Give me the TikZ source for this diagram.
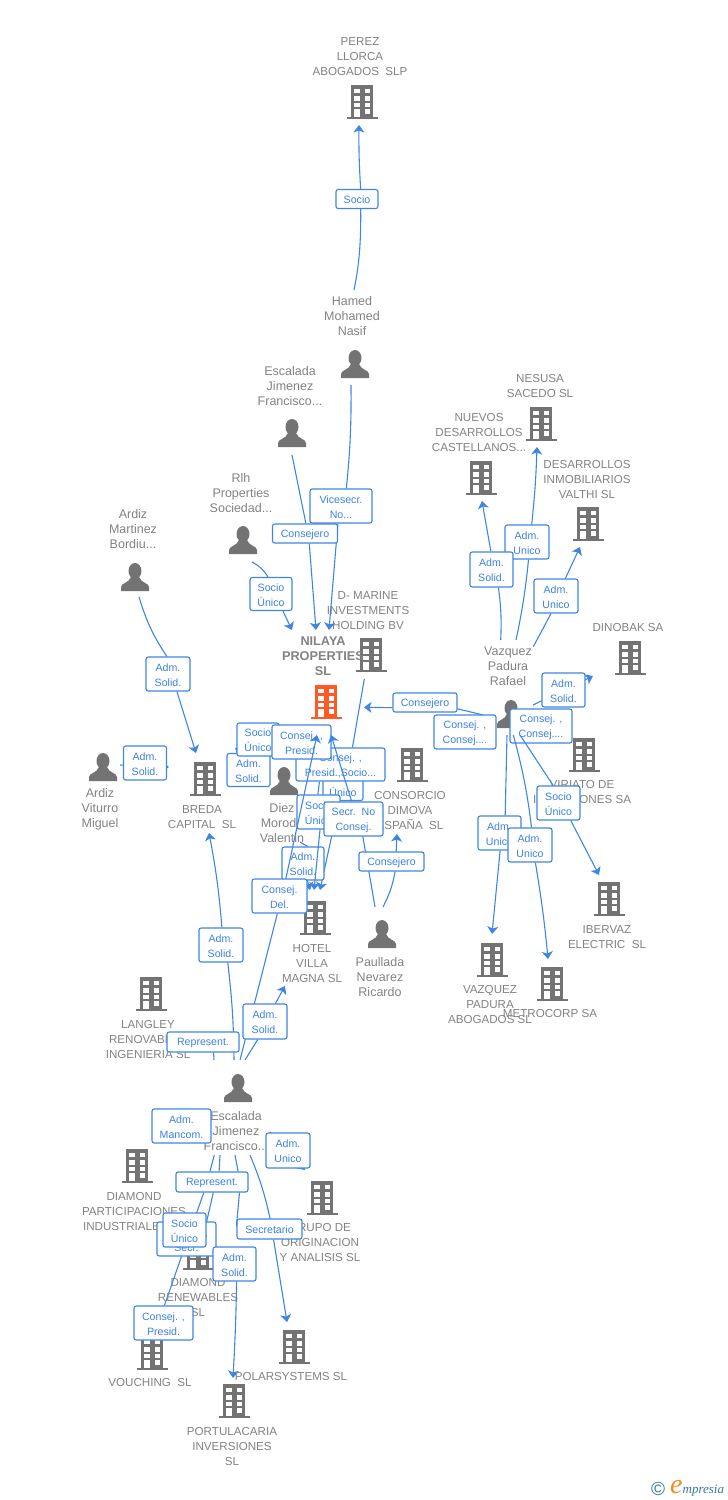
\documentclass[tikz,border=0pt]{standalone}
\usepackage{fontspec}
\setmainfont{Liberation Sans}
\newfontfamily\wmfont{Liberation Serif}
\usetikzlibrary{arrows.meta}
\definecolor{linkblue}{HTML}{3F86E4}
\definecolor{labtext}{HTML}{3C82E0}
\definecolor{grayt}{HTML}{828282}
\definecolor{icong}{HTML}{737373}
\definecolor{hot}{HTML}{FF5A26}
\definecolor{wmteal}{HTML}{2F7C9C}
\definecolor{wmor}{HTML}{F58A1F}
\tikzset{
  bldg/.pic={
    \fill[pic actions] (-11,-17) rectangle (11,15);
    \fill[pic actions] (-15.5,14.5) rectangle (15.5,17);
    \fill[white] (-8,-13.5) rectangle (-2.5,-9);
    \fill[white] (2.5,-13.5) rectangle (8,-9);
    \fill[white] (-8,-5.8) rectangle (-2.5,-1.3);
    \fill[white] (2.5,-5.8) rectangle (8,-1.3);
    \fill[white] (-8,0.9) rectangle (-2.5,5.4);
    \fill[white] (2.5,0.9) rectangle (8,5.4);
    \fill[white] (-8,7.3) rectangle (-2.5,14.5);
    \fill[white] (2.5,7.3) rectangle (8,11.6);
  },
  person/.pic={
    \fill[pic actions] (0,-6) ellipse [x radius=6.5,y radius=8];
    \fill[pic actions] (-14,14) -- (-14,10) .. controls (-14,6) and (-6,6) .. (-4,0) -- (4,0) .. controls (6,6) and (14,6) .. (14,10) -- (14,14) -- cycle;
  },
  iconbox/.style={inner sep=0pt,minimum width=30pt,minimum height=34pt},
  ntext/.style={text=grayt,align=center,inner sep=0pt,font=\fontsize{11.6}{15}\selectfont},
  ptext/.style={text=grayt,align=center,inner sep=0pt,font=\fontsize{12.5}{15}\selectfont},
  btext/.style={text=grayt,align=center,inner sep=0pt,font=\fontsize{12.7}{15}\selectfont\bfseries},
  lab/.style={draw=linkblue,fill=white,text=labtext,rounded corners=2.2pt,line width=1.1pt,inner sep=0pt,align=center,font=\fontsize{10.6}{15}\selectfont},
  link/.style={draw=linkblue,line width=1.1pt},
  arr/.style={link,-{Stealth[length=7.5pt,width=11pt,inset=2pt]}},
}
\newcommand\Bld[4][icong]{\node[iconbox] (#2) at (#3,#4) {}; \pic[fill=#1] at (#2) {bldg};}
\newcommand\Per[3]{\node[iconbox] (#1) at (#2,#3) {}; \pic[fill=icong] at (#1) {person};}
\newcommand\Txt[4]{\node[ntext] (#1) at (#2,#3) {\rule{0pt}{10pt}#4};}
\newcommand\PTxt[4]{\node[ptext] (#1) at (#2,#3) {\rule{0pt}{9.5pt}#4};}
\newcommand\Lbl[6]{\node[lab,minimum width=#4pt,minimum height=#5pt] (#1) at (#2,#3) {\rule{0pt}{9.5pt}#6};}
\begin{document}
\begin{tikzpicture}[x=1pt,y=-1pt]
\useasboundingbox (0,0) rectangle (728,1500);
% icons
\Bld{perez}{362}{102}
\Bld{nesusa}{541}{424}
\Bld{nuevos}{481}{478}
\Bld{valthi}{588}{524}
\Bld{dinobak}{630}{658}
\Bld{viriato}{584}{755}
\Bld{ibervaz}{609}{899}
\Bld{metro}{552}{984}
\Bld{vazab}{492}{960}
\Bld{dimova}{412}{765}
\Bld{dmarine}{371}{655}
\Bld[hot]{nilaya}{326}{702}
\Bld{breda}{205}{779}
\Bld{hotel}{315}{918}
\Bld{langley}{151}{994}
\Bld{diampart}{137}{1166}
\Bld{grupo}{322}{1198}
\Bld{diamren}{198}{1253}
\Bld{polar}{294}{1347}
\Bld{vouching}{152}{1353}
\Bld{portu}{234}{1401}
\Per{hamed}{355}{364}
\Per{escal}{292}{433}
\Per{rlh}{243}{540}
\Per{ardizm}{135}{577}
\Per{ardizv}{103}{767}
\Per{diez}{284}{781}
\Per{paull}{382}{934}
\Per{rafael}{511}{714}
\Per{escalb}{238}{1088}
% names
\Txt{tperez}{360}{56}{PEREZ\\LLORCA\\ABOGADOS\ \ SLP}
\Txt{tnesusa}{540}{385.5}{NESUSA\\SACEDO SL}
\Txt{tnuevos}{479}{432}{NUEVOS\\DESARROLLOS\\CASTELLANOS...}
\Txt{tvalthi}{587}{479}{DESARROLLOS\\INMOBILIARIOS\\VALTHI SL}
\Txt{tdino}{628}{627}{DINOBAK SA}
\Txt{tviri}{582}{791.5}{VIRIATO DE\\INVERSIONES SA}
\Txt{tiber}{607}{936.5}{IBERVAZ\\ELECTRIC\ \ SL}
\Txt{tmetro}{550}{1013}{METROCORP SA}
\Txt{tvazab}{490}{1004}{VAZQUEZ\\PADURA\\ABOGADOS SL}
\Txt{tdimova}{410}{810}{CONSORCIO\\DIMOVA\\ESPAÑA\ \ SL}
\Txt{tdmar}{368}{610}{D- MARINE\\INVESTMENTS\\HOLDING BV}
\node[btext] (tnil) at (323,656) {\rule{0pt}{10pt}NILAYA\\PROPERTIES\\SL};
\Txt{tbreda}{202}{816.5}{BREDA\\CAPITAL\ \ SL}
\Txt{thotel}{312}{963}{HOTEL\\VILLA\\MAGNA SL}
\Txt{tlang}{148}{1039}{LANGLEY\\RENOVABLES\\INGENIERIA SL}
\Txt{tdpart}{134}{1211}{DIAMOND\\PARTICIPACIONES\\INDUSTRIALES SL}
\Txt{tgrupo}{320}{1242}{GRUPO DE\\ORIGINACION\\Y ANALISIS SL}
\Txt{tdren}{198}{1297}{DIAMOND\\RENEWABLES\\SL}
\Txt{tpolar}{291}{1376}{POLARSYSTEMS SL}
\Txt{tvouch}{150}{1382}{VOUCHING\ \ SL}
\Txt{tportu}{232}{1446}{PORTULACARIA\\INVERSIONES\\SL}
\PTxt{thamed}{352}{316}{Hamed\\Mohamed\\Nasif}
\PTxt{tescal}{290}{386}{Escalada\\Jimenez\\Francisco...}
\PTxt{trlh}{241}{493}{Rlh\\Properties\\Sociedad...}
\PTxt{tardm}{133}{529}{Ardiz\\Martinez\\Bordiu...}
\PTxt{tardv}{100}{809}{Ardiz\\Viturro\\Miguel}
\PTxt{tdiez}{282}{823}{Diez\\Morodo\\Valentin}
\PTxt{tpaull}{380}{977}{Paullada\\Nevarez\\Ricardo}
\PTxt{traf}{508}{666}{Vazquez\\Padura\\Rafael}
\PTxt{tescb}{236}{1131}{Escalada\\Jimenez\\Francisco...}
% free connector ends
\coordinate (s1) at (354,290); \coordinate (e1) at (359,125);
\coordinate (s2) at (351,385); \coordinate (e2) at (329,630);
\coordinate (s3) at (292,455); \coordinate (e3) at (316,630);
\coordinate (s4) at (252,562); \coordinate (e4) at (292,630);
\coordinate (s5) at (139,597); \coordinate (e5) at (196,753);
\coordinate (s6) at (120,765); \coordinate (e6) at (169,767);
\coordinate (s7) at (268,768); \coordinate (e7) at (235,748);
\coordinate (s8) at (364.3,679); \coordinate (e8) at (320,890);
\coordinate (e9) at (314,890);
\coordinate (s10) at (300,842); \coordinate (e10) at (310,890);
\coordinate (s11) at (375,907); \coordinate (e11) at (331,735);
\coordinate (s12) at (383,907); \coordinate (e12) at (397,834);
\coordinate (s13) at (240,1060); \coordinate (e13) at (317,735);
\coordinate (s14) at (234,1060); \coordinate (e14) at (209,833);
\coordinate (s15) at (245,1060); \coordinate (e15) at (285,986);
\coordinate (s16) at (214,1060);
\coordinate (s20) at (500.7,640); \coordinate (e20) at (482,501);
\coordinate (s21) at (516,640); \coordinate (e21) at (537,447);
\coordinate (s22) at (533.3,646.7); \coordinate (e22) at (580,547);
\coordinate (s23) at (533,705); \coordinate (e23) at (593,676);
\coordinate (s24) at (483.3,715); \coordinate (e24) at (364,707.3);
\coordinate (s25) at (520,735); \coordinate (e25) at (599,875);
\coordinate (s26) at (507,735); \coordinate (e26) at (492,934);
\coordinate (s27) at (513.3,735); \coordinate (e27) at (548,959);
\coordinate (s30) at (214.3,1155);
\coordinate (s31) at (220,1155);
\coordinate (s32) at (235,1155); \coordinate (e32) at (233,1378);
\coordinate (s33) at (250,1155); \coordinate (e33) at (287,1322);
\coordinate (s34) at (270,1132); \coordinate (e34) at (305,1170);
% labels and connectors
\Lbl{lsocio}{357}{199}{42}{19}{Socio}
\draw[link] (s1) .. controls (360,262) and (361,235) .. (lsocio.-70);
\draw[arr] (lsocio.70) to[bend left=2] (e1);
\Lbl{lvice}{341}{506}{62}{34}{Vicesecr.\\No...}
\draw[link] (s2) to[bend left=3] (lvice.73);
\draw[arr] (lvice.-100) to (e2);
\Lbl{lcons1}{305}{533.5}{65}{19}{Consejero}
\draw[link] (s3) to (lcons1.85);
\draw[arr] (lcons1.-67) to (e3);
\Lbl{lsu1}{271}{594}{42}{33}{Socio\\Único}
\draw[link] (s4) to[bend left=15] (lsu1.100);
\draw[arr] (lsu1.-55) to (e4);
\Lbl{las1}{168}{674}{44}{34}{Adm.\\Solid.}
\draw[link] (s5) to[bend right=8] (las1.94);
\draw[arr] (las1.-63) to (e5);
\draw[arr] (s6) to (e6);
\Lbl{las2}{145}{763}{43}{34}{Adm.\\Solid.}
\draw[arr] (s7) to (e7);
\Lbl{las3}{248.5}{770}{43}{33}{Adm.\\Solid.}
\Lbl{lsu2}{258}{739.5}{42}{33}{Socio\\Único}
\Lbl{lun}{343}{784}{40}{33}{Socio\\Único}
\Lbl{lcps}{340.5}{764.5}{89}{33}{Consej. ,\\Presid.,Socio...}
\draw[link] (s8) to (lcps.55);
\draw[arr] (lun) to (e8);
\Lbl{lcp}{301.5}{742}{59}{34}{Consej. ,\\Presid.}
\Lbl{lsu3}{318.5}{812}{43}{34}{Socio\\Único}
\draw[link] (lcps.-141) to (lsu3.92);
\Lbl{las4}{303}{863.5}{42}{33}{Adm.\\Solid.}
\draw[arr] (lsu3.-85) to (e9);
\draw[link] (s10) to (las4.75);
\draw[arr] (las4) to (e10);
\Lbl{lsec}{353.5}{819}{59}{34}{Secr.\ \ No\\Consej.}
\draw[link] (s11) to (lsec.-62);
\draw[arr] (lsec.96) to (e11);
\Lbl{lcons2}{391.5}{861.5}{65}{19}{Consejero}
\draw[link] (s12) to[bend right=8] (lcons2.-70);
\draw[arr] (lcons2.65) to (e12);
\Lbl{ldel}{279.5}{896}{55}{34}{Consej.\\Del.}
\draw[link] (s13) to (ldel.-97);
\draw[arr] (ldel.70) to (e13);
\Lbl{las5}{221}{945}{44}{34}{Adm.\\Solid.}
\draw[link] (s14) to[bend right=3] (las5.-69);
\draw[arr] (las5.87) to[bend right=3] (e14);
\Lbl{las6}{265}{1021.5}{44}{35}{Adm.\\Solid.}
\draw[link] (s15) to (las6.-112);
\draw[arr] (las6.60) to (e15);
\Lbl{lrep1}{203}{1042}{72}{20}{Represent.}
\draw[link] (s16) to (lrep1.-45);
\Lbl{lau1}{527}{542}{44}{34}{Adm.\\Unico}
\draw[link] (s21) to[bend right=3] (lau1.-85);
\draw[arr] (lau1.75) to[bend right=2] (e21);
\Lbl{las7}{491.5}{569.5}{43}{35}{Adm.\\Solid.}
\draw[link] (s20) to[bend right=5] (las7.-69);
\draw[arr] (las7.92) to (e20);
\Lbl{lau2}{556}{596}{44}{34}{Adm.\\Unico}
\draw[link] (s22) to (lau2.-106);
\draw[arr] (lau2.62) to (e22);
\draw[arr] (s23) to (e23);
\Lbl{las8}{563.5}{690}{43}{34}{Adm.\\Solid.}
\Lbl{lcons3}{425}{702.5}{64}{19}{Consejero}
\draw[link] (s24) to (lcons3.-11);
\draw[arr] (lcons3.189.7) to (e24);
\Lbl{lcc1}{465}{732}{62}{34}{Consej. ,\\Consej....}
\Lbl{lcc2}{541}{726}{62}{34}{Consej. ,\\Consej....}
\Lbl{lsu4}{558.5}{803}{43}{34}{Socio\\Único}
\draw[link] (s25) to (lsu4.107);
\draw[arr] (lsu4.-55) to (e25);
\Lbl{lau3}{499.5}{833}{43}{34}{Adm.\\Unico}
\draw[link] (s26) to (lau3.72);
\draw[arr] (lau3.-88) to (e26);
\Lbl{lau4}{530}{845}{44}{34}{Adm.\\Unico}
\draw[link] (s27) to[bend left=4] (lau4.85);
\draw[arr] (lau4.-73) to[bend left=2] (e27);
\Lbl{lmanc}{181.5}{1126}{59}{34}{Adm.\\Mancom.}
\draw[arr] (s34) to (e34);
\Lbl{lau5}{288}{1150.5}{44}{35}{Adm.\\Unico}
\Lbl{lrep2}{212}{1182}{72}{20}{Represent.}
\draw[link] (s30) to (lrep2.101);
\draw[link] (s31) to (lrep2.56);
\draw[link] (s32) to (lrep2.22);
\Lbl{lcp2}{163.5}{1323}{59}{34}{Consej. ,\\Presid.}
\draw[link] (lrep2.-128) to (lcp2.87);
\Lbl{lsec2}{186.5}{1239}{59}{34}{Consej. ,\\Secr.}
\Lbl{lsu5}{184.5}{1230}{43}{34}{Socio\\Único}
\draw[link] (lrep2.-83) to (lsu5.20);
\Lbl{lsecr}{269.5}{1229}{65}{20}{Secretario}
\Lbl{las9}{234.5}{1264}{43}{34}{Adm.\\Solid.}
\draw[link] (lrep2.-21) to (lsecr.175);
\draw[link] (s33) to[bend left=5] (lsecr.87);
\draw[arr] (lsecr.-69) to (e33);
\draw[arr] (las9.-83) to[bend left=1] (e32);
% watermark
\node[text=wmteal,inner sep=0pt,font=\fontsize{19}{19}\selectfont] (wmc) at (658,1488.5) {©};
\node[inner sep=0pt,anchor=base west,font=\wmfont\itshape\fontsize{13}{14}\selectfont,text=wmteal] (wmt) at (670,1493) {\textcolor{wmor}{\fontsize{28}{28}\selectfont e}mpresia};
\end{tikzpicture}
\end{document}
